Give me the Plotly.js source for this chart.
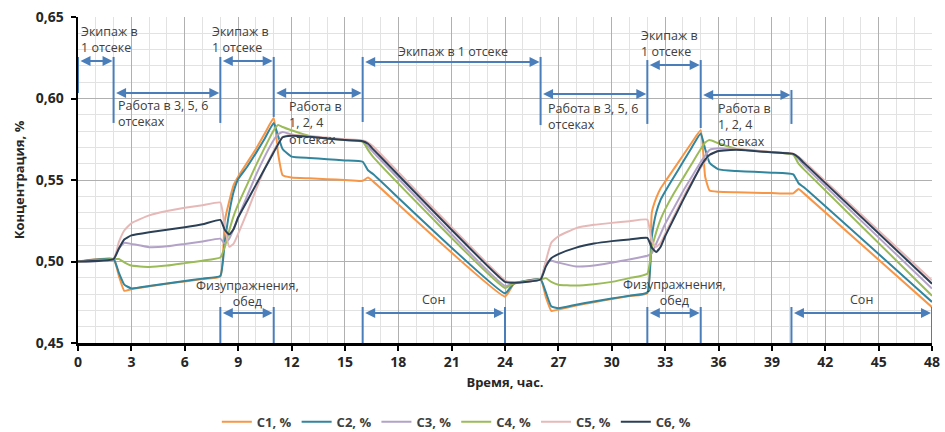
<!DOCTYPE html>
<html>
<head>
<meta charset="utf-8">
<script src="https://cdn.plot.ly/plotly-3.0.1.min.js"></script>
<style>html,body{margin:0;padding:0;background:#fff;}#chart{width:945px;height:432px;}</style>
</head>
<body>
<div id="chart"></div>
<script>
// ---- data ----
const time = [0, 2, 2.3, 2.6, 3, 4, 5, 6, 7, 8, 8.25, 8.5, 8.75, 9, 9.5, 10, 10.5, 11, 11.25, 11.5, 12, 13, 14, 15, 16, 16.3, 16.6, 24, 24.5, 26, 26.3, 26.6, 27, 28, 29, 30, 31, 32, 32.25, 32.5, 32.75, 33, 33.5, 34, 34.5, 35, 35.25, 35.5, 36, 37, 38, 39, 40.2, 40.5, 40.8, 48];

const c1 = [0.500, 0.5015, 0.491, 0.482, 0.483, 0.4848, 0.4863, 0.4878, 0.4893, 0.4908,
  0.525, 0.537, 0.547, 0.552, 0.5605, 0.569, 0.5785, 0.588, 0.566, 0.553,
  0.5515, 0.551, 0.5505, 0.550, 0.5495, 0.5515, 0.549, 0.4785, 0.4862, 0.489,
  0.478, 0.4697, 0.4705, 0.473, 0.475, 0.477, 0.4788, 0.4805, 0.530, 0.539,
  0.545, 0.549, 0.557, 0.565, 0.573, 0.5805, 0.552, 0.5435, 0.5428, 0.5425,
  0.5422, 0.542, 0.5418, 0.5445, 0.5418, 0.472];

const c2 = [0.500, 0.5015, 0.493, 0.4858, 0.4835, 0.485, 0.4865, 0.488, 0.4895, 0.4912,
  0.512, 0.530, 0.543, 0.5505, 0.558, 0.5665, 0.5755, 0.585, 0.577, 0.569,
  0.5643, 0.5635, 0.5628, 0.562, 0.5612, 0.556, 0.5535, 0.4805, 0.4865, 0.489,
  0.481, 0.4725, 0.4713, 0.4735, 0.4755, 0.4773, 0.479, 0.481, 0.515, 0.530,
  0.538, 0.543, 0.552, 0.561, 0.570, 0.5785, 0.569, 0.5605, 0.5565, 0.5555,
  0.555, 0.5545, 0.5535, 0.548, 0.5455, 0.4752];

const c3 = [0.500, 0.5015, 0.508, 0.5115, 0.5108, 0.5088, 0.5093, 0.5108, 0.5123, 0.514,
  0.511, 0.514, 0.520, 0.527, 0.540, 0.553, 0.5645, 0.5745, 0.578, 0.5795,
  0.578, 0.5765, 0.5755, 0.5745, 0.5737, 0.5705, 0.567, 0.485, 0.4868, 0.489,
  0.4995, 0.5005, 0.4993, 0.497, 0.4975, 0.4993, 0.5013, 0.5035, 0.505, 0.511,
  0.517, 0.523, 0.533, 0.543, 0.552, 0.561, 0.565, 0.5685, 0.5695, 0.5688,
  0.568, 0.567, 0.5658, 0.5628, 0.559, 0.4834];

const c4 = [0.500, 0.5015, 0.5015, 0.4995, 0.4975, 0.4967, 0.4975, 0.499, 0.5005, 0.5025,
  0.509, 0.519, 0.528, 0.535, 0.547, 0.559, 0.570, 0.5805, 0.5838, 0.5825,
  0.5805, 0.577, 0.5755, 0.5745, 0.5735, 0.5685, 0.564, 0.4838, 0.4867, 0.489,
  0.4898, 0.4875, 0.4858, 0.4852, 0.486, 0.4875, 0.4898, 0.4925, 0.508, 0.518,
  0.526, 0.532, 0.542, 0.551, 0.560, 0.569, 0.573, 0.5745, 0.5725, 0.569,
  0.568, 0.567, 0.5655, 0.560, 0.5565, 0.479];

const c5 = [0.500, 0.5015, 0.512, 0.519, 0.5235, 0.5283, 0.531, 0.533, 0.5345, 0.5362,
  0.521, 0.509, 0.511, 0.517, 0.530, 0.544, 0.557, 0.568, 0.573, 0.5765,
  0.5775, 0.577, 0.576, 0.575, 0.5742, 0.573, 0.5705, 0.4885, 0.4872, 0.4892,
  0.5005, 0.5115, 0.5155, 0.5205, 0.5225, 0.5237, 0.5247, 0.5257, 0.5125, 0.509,
  0.5115, 0.517, 0.528, 0.539, 0.549, 0.5575, 0.5615, 0.5652, 0.568, 0.5688,
  0.5682, 0.5672, 0.5662, 0.5642, 0.5615, 0.4885];

const c6 = [0.500, 0.5015, 0.508, 0.5135, 0.516, 0.518, 0.5195, 0.521, 0.5228, 0.5255,
  0.5195, 0.5165, 0.520, 0.527, 0.537, 0.547, 0.557, 0.567, 0.572, 0.5762,
  0.5772, 0.5765, 0.5755, 0.5745, 0.5738, 0.5722, 0.5688, 0.4875, 0.487, 0.489,
  0.497, 0.502, 0.5045, 0.5085, 0.511, 0.5125, 0.5135, 0.5145, 0.5085, 0.5058,
  0.509, 0.5155, 0.5265, 0.5375, 0.548, 0.5585, 0.5625, 0.5655, 0.5678, 0.5685,
  0.5678, 0.567, 0.566, 0.5638, 0.5605, 0.4864];

const seriesNames = ['C1, %', 'C2, %', 'C3, %', 'C4, %', 'C5, %', 'C6, %'];
const seriesColors = ['#f79646', '#31859c', '#b3a2c7', '#9bbb59', '#e6b9b8', '#2b4057'];
const seriesValues = [c1, c2, c3, c4, c5, c6];

// period markers (hours) and their labels
const topStart = [0, 2, 8, 11, 16, 26, 32, 35];
const topEnd = [2, 8, 11, 16, 26, 32, 35, 40.1];
const topArrowY = [0.623, 0.6034, 0.623, 0.6034, 0.6224, 0.6028, 0.6206, 0.6022];
const topLabels = ['Экипаж в<br>1 отсеке', 'Работа в 3, 5, 6<br>отсеках', 'Экипаж в<br>1 отсеке',
  'Работа в<br>1, 2, 4<br>отсеках', 'Экипаж в 1 отсеке', 'Работа в 3, 5, 6<br>отсеках',
  'Экипаж в<br>1 отсеке', 'Работа в<br>1, 2, 4<br>отсеках'];
const topLabelX = [0.05, 2.15, 7.4, 11.75, 21.1, 26.3, 31.55, 35.85];
const topLabelY = [0.6359, 0.5905, 0.6359, 0.5847, 0.6291, 0.589, 0.634, 0.5837];
const topLabelAnchor = ['left', 'left', 'left', 'left', 'center', 'left', 'left', 'left'];
// vertical marker lines: x, y from, y to
const vLineX = [0, 2, 8, 11, 16, 26, 32, 35, 40.1];
const vLineY0 = [0.6034, 0.585, 0.585, 0.5887, 0.5856, 0.5837, 0.5844, 0.5819, 0.5844];
const vLineY1 = [0.6255, 0.6255, 0.6255, 0.6255, 0.6255, 0.6255, 0.6236, 0.6236, 0.6052];

const botStart = [8, 16, 32, 40.1];
const botEnd = [11, 24, 35, 48];
const botLabels = ['Физупражнения,<br>обед', 'Сон', 'Физупражнения,<br>обед', 'Сон'];
const botLabelY = [0.4801, 0.4764, 0.4807, 0.4767];
const botArrowY = 0.4684;
const botLineTop = 0.4721;

// ---- build ----
const traces = seriesValues.map((vals, i) => ({
  x: time, y: vals, type: 'scatter', mode: 'lines', name: seriesNames[i],
  line: {color: seriesColors[i], width: 2, shape: 'spline', smoothing: 0.4}
}));

const blue = '#4a7ebb';
const txtFont = {family: 'Open Sans, sans-serif', size: 12.5, color: '#404040'};
const annotations = [];
const shapes = [];

topStart.forEach((s, i) => {
  annotations.push({x: topEnd[i], y: topArrowY[i], ax: s, ay: topArrowY[i], xref: 'x', yref: 'y', axref: 'x', ayref: 'y',
    text: '', showarrow: true, arrowside: 'end+start', arrowhead: 2, arrowsize: 1, arrowwidth: 2, arrowcolor: blue,
    standoff: 1, startstandoff: 1});
  annotations.push({x: topLabelX[i], y: topLabelY[i], xref: 'x', yref: 'y', text: topLabels[i], showarrow: false,
    xanchor: topLabelAnchor[i], yanchor: 'middle', align: 'left', font: txtFont});
});
vLineX.forEach((x, i) => {
  shapes.push({type: 'line', xref: 'x', yref: 'y', x0: x, x1: x, y0: vLineY0[i], y1: vLineY1[i], line: {color: blue, width: 2}});
});
botStart.forEach((s, i) => {
  annotations.push({x: botEnd[i], y: botArrowY, ax: s, ay: botArrowY, xref: 'x', yref: 'y', axref: 'x', ayref: 'y',
    text: '', showarrow: true, arrowside: 'end+start', arrowhead: 2, arrowsize: 1, arrowwidth: 2, arrowcolor: blue,
    standoff: 1, startstandoff: 1});
  annotations.push({x: (s + botEnd[i]) / 2, y: botLabelY[i], xref: 'x', yref: 'y', text: botLabels[i], showarrow: false,
    xanchor: 'center', yanchor: 'middle', align: 'center', font: txtFont});
  shapes.push({type: 'line', xref: 'x', yref: 'y', x0: s, x1: s, y0: 0.45, y1: botLineTop, line: {color: blue, width: 2}});
  shapes.push({type: 'line', xref: 'x', yref: 'y', x0: botEnd[i], x1: botEnd[i], y0: 0.45, y1: botLineTop, line: {color: blue, width: 2}});
});

const tickFont = {family: 'Open Sans, sans-serif', size: 14, color: '#262626', weight: 'bold'};
const layout = {
  width: 945, height: 432,
  margin: {l: 78, r: 13, t: 17, b: 89, autoexpand: false},
  paper_bgcolor: '#fff', plot_bgcolor: '#fff',
  separators: ', ',
  showlegend: true,
  legend: {orientation: 'h', x: 0.443, xanchor: 'center', y: -0.242, yanchor: 'middle',
    font: {family: 'Open Sans, sans-serif', size: 13, color: '#404040', weight: 'bold'}, itemwidth: 30, tracegroupgap: 0},
  xaxis: {
    range: [0, 48], dtick: 3, tick0: 0, showgrid: true, gridcolor: '#b0b0b0', gridwidth: 1,
    minor: {dtick: 1, showgrid: true, gridcolor: '#e2e2e2', gridwidth: 1},
    showline: true, linecolor: '#000', linewidth: 2.5, ticks: 'outside', ticklen: 5, tickwidth: 2, tickcolor: '#000',
    zeroline: false, tickfont: tickFont, automargin: false,
    title: {text: 'Время, час.', font: {family: 'Open Sans, sans-serif', size: 13, color: '#262626', weight: 'bold'}, standoff: 8}
  },
  yaxis: {
    range: [0.45, 0.65], dtick: 0.05, tick0: 0.45, tickformat: '.2f', showgrid: true, gridcolor: '#b0b0b0', gridwidth: 1,
    minor: {dtick: 0.01, showgrid: true, gridcolor: '#e2e2e2', gridwidth: 1},
    showline: true, linecolor: '#000', linewidth: 2.5, ticks: 'outside', ticklen: 5, tickwidth: 2, tickcolor: '#000',
    zeroline: false, tickfont: tickFont, automargin: false, ticklabelstandoff: 4,
    title: {text: 'Концентрация, %', font: {family: 'Open Sans, sans-serif', size: 13, color: '#262626', weight: 'bold'}, standoff: 8}
  },
  annotations: annotations,
  shapes: shapes
};

Plotly.newPlot('chart', traces, layout, {displayModeBar: false, staticPlot: true});
</script>
</body>
</html>
